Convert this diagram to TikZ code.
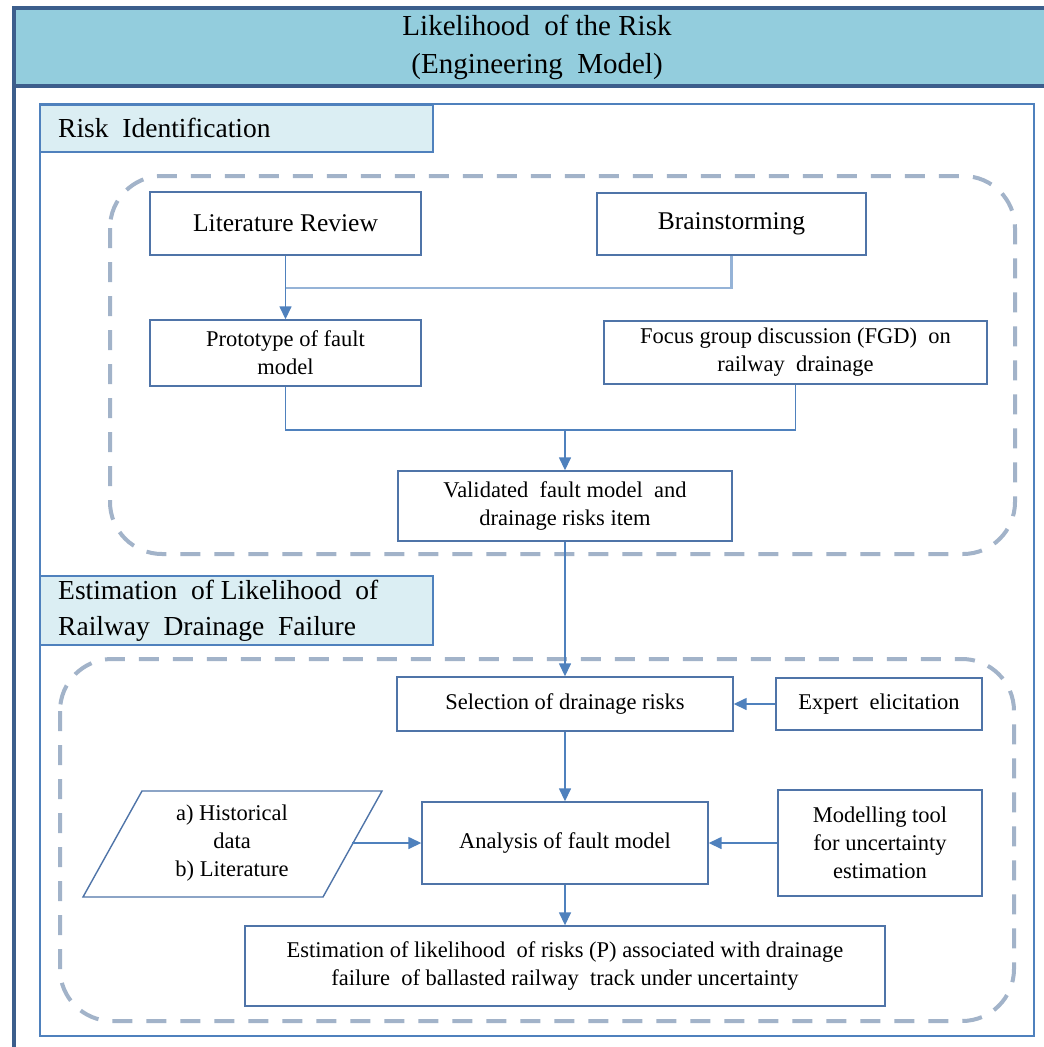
\documentclass[tikz,border=0pt]{standalone}
\usepackage{fontspec}
\setmainfont{Liberation Serif}
\usetikzlibrary{arrows.meta}
\definecolor{darkframe}{HTML}{3C5E8C}
\definecolor{titlefill}{HTML}{93CDDD}
\definecolor{labelfill}{HTML}{DBEEF3}
\definecolor{boxc}{HTML}{4F74A8}
\definecolor{arrc}{HTML}{4F81BD}
\definecolor{lightarr}{HTML}{95B3D7}
\definecolor{dashc}{HTML}{A2B3C9}
\tikzset{
  stepbox/.style={draw=boxc, line width=1.4pt, fill=white, align=center, inner sep=0pt},
  labelbox/.style={draw=arrc, line width=1.3pt, fill=labelfill},
  dashbox/.style={draw=dashc, line width=4pt, dash pattern=on 20pt off 14pt, rounded corners=52pt},
  conn/.style={draw=arrc, line width=1.5pt},
  lconn/.style={draw=lightarr, line width=2.5pt},
  arr/.style={conn, -{Triangle[length=13pt,width=12pt]}},
  bigtxt/.style={font=\fontsize{25.5}{30}\selectfont},
  smalltxt/.style={font=\fontsize{22.5}{28}\selectfont},
  sectxt/.style={font=\fontsize{27.5}{36}\selectfont, align=left, anchor=west, inner sep=0pt},
}
\begin{document}
\begin{tikzpicture}[x=1pt,y=-1pt]
\clip (0,0) rectangle (1044,1047);
\fill[white] (0,0) rectangle (1044,1047);
% outer frame and title bar
\fill[titlefill] (14,8) rectangle (1060,86);
\draw[darkframe, line width=4pt] (14,1070) -- (14,8) -- (1070,8);
\draw[darkframe, line width=4pt] (14,86) -- (1070,86);
\node[font=\fontsize{29}{38}\selectfont, align=center] (title) at (537,47) {Likelihood \ of the Risk\\(Engineering \ Model)};
% inner frame
\draw[arrc, line width=1.3pt] (40,104) rectangle (1034,1036);
% section labels
\path[labelbox] (40,105) rectangle (433,152);
\node[sectxt] (sec1) at (58,128) {Risk \ Identification};
\path[labelbox] (40,576) rectangle (433,645);
\node[sectxt] (sec2) at (58,611) {Estimation \ of Likelihood \ of\\Railway \ Drainage \ Failure};
% dashed groups
\draw[dashbox] (110,176) rectangle (1015,554);
\draw[dashbox] (60,659) rectangle (1014,1021);
% boxes
\node[stepbox, bigtxt, minimum width=271pt, minimum height=63pt] (lit) at (285.5,223.5) {Literature Review};
\node[stepbox, bigtxt, minimum width=269pt, minimum height=62pt] (brain) at (731.5,224) {Brainstorming};
\node[stepbox, smalltxt, minimum width=271pt, minimum height=66pt] (proto) at (285.5,353) {Prototype of fault\\model};
\node[stepbox, smalltxt, minimum width=383pt, minimum height=63pt] (fgd) at (795.5,352.5) {Focus group discussion (FGD) \ on\\railway \ drainage};
\node[stepbox, smalltxt, minimum width=334pt, minimum height=70pt] (valid) at (565,506) {Validated \ fault model \ and\\drainage risks item};
\node[stepbox, smalltxt, minimum width=336pt, minimum height=54pt] (sel) at (565,704) {Selection of drainage risks};
\node[stepbox, smalltxt, minimum width=206pt, minimum height=52pt] (exp) at (879,704) {Expert \ elicitation};
\node[stepbox, smalltxt, minimum width=286pt, minimum height=82pt] (ana) at (565,843) {Analysis of fault model};
\node[stepbox, smalltxt, minimum width=204pt, minimum height=106pt] (mod) at (880,843) {Modelling tool\\for uncertainty\\estimation};
\node[stepbox, smalltxt, minimum width=640pt, minimum height=80pt] (est) at (565,966) {Estimation of likelihood \ of risks (P) associated with drainage\\failure \ of ballasted railway \ track under uncertainty};
% parallelogram
\draw[boxc, line width=1.4pt, fill=white] (83,897) -- (142,791) -- (382,791) -- (323,897) -- cycle;
\node[smalltxt, align=center] (data) at (232,843) {a) Historical\\data\\b) Literature};
\coordinate (pe) at (352,843);
% junctions
\coordinate (j1) at (285.5,288);
\coordinate (j2) at (565,430);
% connectors
\draw[arr] (lit.south) -- (proto.north);
\draw[lconn] (brain.south) |- (j1);
\draw[conn] (proto.south) |- (j2) -| (fgd.south);
\draw[arr] (j2) -- (valid.north);
\draw[arr] (valid.south) -- (sel.north);
\draw[arr] (exp.west) -- (sel.east);
\draw[arr] (sel.south) -- (ana.north);
\draw[arr] (pe) -- (ana.west);
\draw[arr] (mod.west) -- (ana.east);
\draw[arr] (ana.south) -- (est.north);
\end{tikzpicture}
\end{document}
